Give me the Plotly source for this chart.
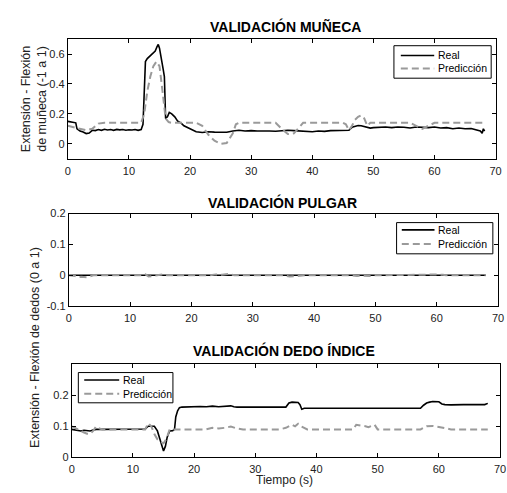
import plotly.graph_objects as go

W, H = 507, 493

# ---------------- DATA ----------------
# Panel 1: wrist
t1_real = [0, 0.5, 1, 1.3, 1.5, 2, 2.5, 3, 3.5, 4, 4.5, 5, 5.5, 6, 6.5, 7, 7.5, 8, 8.5, 9, 9.5, 10, 10.5, 11, 11.5, 12,
           12.3, 12.5, 12.7, 13, 13.5, 14, 14.3, 14.6, 14.8, 15, 15.3, 15.6, 15.8, 16, 16.3, 16.6, 17, 17.5, 18, 18.5,
           19, 19.5, 20, 20.5, 21, 22, 23, 24, 25, 26, 27, 28, 29, 30, 31, 32, 33, 34, 35, 36, 37, 38, 39, 40, 41, 42,
           43, 44, 45, 46, 46.5, 47, 47.5, 48, 48.5, 49, 49.5, 50, 51, 52, 53, 54, 55, 56, 57, 58, 59, 60, 61, 62, 63,
           64, 65, 66, 67, 67.5, 67.8, 68, 68.2]
v1_real = [0.15, 0.148, 0.145, 0.14, 0.1, 0.085, 0.078, 0.068, 0.072, 0.09, 0.088, 0.095, 0.09, 0.097, 0.092, 0.095,
           0.09, 0.096, 0.093, 0.095, 0.09, 0.094, 0.092, 0.095, 0.09, 0.095,
           0.13, 0.35, 0.55, 0.57, 0.59, 0.61, 0.62, 0.65, 0.665, 0.64, 0.58, 0.5, 0.45, 0.17, 0.18, 0.21, 0.2, 0.18,
           0.15, 0.14, 0.12, 0.11, 0.095, 0.09, 0.08, 0.075, 0.08, 0.078, 0.08, 0.077, 0.085, 0.09, 0.085, 0.088,
           0.085, 0.087, 0.085, 0.084, 0.088, 0.09, 0.088, 0.085, 0.078, 0.08, 0.085, 0.083, 0.088, 0.09, 0.088, 0.09,
           0.11, 0.118, 0.122, 0.12, 0.115, 0.11, 0.105, 0.108, 0.11, 0.112, 0.108, 0.112, 0.11, 0.105, 0.112, 0.11,
           0.108, 0.112, 0.105, 0.108, 0.1, 0.105, 0.1, 0.102, 0.09, 0.085, 0.07, 0.1, 0.085]
t1_pred = [0, 1, 2, 3, 4, 5, 6, 8, 10, 12, 12.5, 13, 13.5, 14, 14.5, 15, 15.5, 16, 16.5, 17, 18, 20, 21, 22, 23, 24, 25,
           26, 27, 27.5, 28, 30, 32, 34, 35, 36, 37, 38, 38.5, 40, 42, 44, 45, 45.5, 46, 46.5, 47, 47.5, 48, 48.5, 49,
           49.5, 50, 52, 54, 56, 57, 58, 59, 60, 61, 62, 64, 66, 68]
v1_pred = [0.12, 0.11, 0.1, 0.09, 0.1, 0.135, 0.14, 0.14, 0.14, 0.14, 0.2, 0.35, 0.45, 0.52, 0.55, 0.52, 0.35, 0.17,
           0.145, 0.14, 0.14, 0.14, 0.14, 0.12, 0.06, 0.02, 0.0, 0.005, 0.07, 0.13, 0.14, 0.14, 0.14, 0.14, 0.1, 0.065,
           0.07, 0.12, 0.14, 0.14, 0.14, 0.14, 0.14, 0.13, 0.09, 0.12, 0.16, 0.18, 0.19, 0.17, 0.12, 0.14, 0.14, 0.14,
           0.14, 0.14, 0.12, 0.1, 0.12, 0.14, 0.14, 0.14, 0.14, 0.14, 0.14]

# Panel 2: thumb
t2_real = [0, 10, 20, 30, 40, 50, 60, 68]
v2_real = [0, 0, 0, 0, 0, 0, 0, 0]
t2_pred = [0, 1, 1.5, 2, 3, 3.5, 4, 12, 12.5, 13, 14, 15, 15.5, 16, 23, 24, 25, 26, 26.5, 27, 35, 35.5, 36, 37, 38,
           38.5, 46, 47, 48, 49, 49.5, 57, 58, 59, 60, 61, 61.5, 68]
v2_pred = [0, -0.002, -0.006, -0.005, -0.006, -0.002, 0, 0, 0.003, -0.004, -0.002, 0.002, 0.003, 0, 0, 0.003, 0.002,
           0.004, 0.003, 0, 0, -0.003, -0.004, -0.003, -0.002, 0, 0, -0.002, -0.001, -0.002, 0, 0, 0.002, 0.003,
           0.003, 0.002, 0, 0]

# Panel 3: index finger
t3_real = [0, 0.5, 1, 1.5, 2, 2.5, 3, 3.5, 4, 5, 6, 7, 8, 9, 10, 11, 12, 12.5, 13, 13.5, 14, 14.5, 15, 15.3, 15.6, 16,
           16.5, 16.8, 17, 17.3, 17.6, 18, 19, 20, 21, 22, 23, 24, 25, 26, 26.5, 27, 30, 33, 35, 35.5, 36, 37, 37.3,
           37.6, 38, 40, 42, 45, 46, 47, 50, 53, 55, 57, 57.5, 58, 58.5, 59, 60, 60.5, 61, 62, 64, 66, 67.5, 68]
v3_real = [0.09, 0.088, 0.086, 0.085, 0.087, 0.086, 0.085, 0.088, 0.09, 0.09, 0.09, 0.091, 0.09, 0.09, 0.091, 0.09,
           0.091, 0.1, 0.1, 0.1, 0.085, 0.05, 0.02, 0.035, 0.065, 0.085, 0.086, 0.09, 0.13, 0.15, 0.16, 0.162, 0.163,
           0.162, 0.164, 0.163, 0.165, 0.163, 0.165, 0.166, 0.163, 0.162, 0.162, 0.162, 0.162, 0.175, 0.178, 0.177,
           0.17, 0.155, 0.158, 0.158, 0.158, 0.158, 0.157, 0.156, 0.156, 0.156, 0.157, 0.158, 0.168, 0.175, 0.178,
           0.18, 0.179, 0.172, 0.17, 0.169, 0.17, 0.17, 0.17, 0.174]
t3_pred = [0, 0.5, 1, 1.5, 2, 2.5, 3, 3.5, 4, 4.5, 5, 8, 10, 12, 12.5, 13, 13.5, 14, 14.5, 15, 15.5, 16, 16.5, 17, 20,
           22, 23, 24, 25, 26, 27, 28, 30, 34, 35, 36, 36.5, 37, 37.5, 38, 38.5, 40, 45, 46, 46.5, 47, 48, 48.5, 49,
           49.5, 50, 52, 56, 57, 58, 59, 60, 61, 62, 65, 68]
v3_pred = [0.1, 0.095, 0.088, 0.085, 0.08, 0.076, 0.075, 0.085, 0.1, 0.093, 0.09, 0.09, 0.09, 0.09, 0.11, 0.1, 0.075,
           0.058, 0.05, 0.045, 0.06, 0.09, 0.09, 0.09, 0.09, 0.09, 0.095, 0.093, 0.095, 0.099, 0.093, 0.09, 0.09, 0.09,
           0.095, 0.105, 0.1, 0.108, 0.1, 0.095, 0.09, 0.09, 0.09, 0.09, 0.105, 0.104, 0.1, 0.097, 0.1, 0.105, 0.09,
           0.09, 0.09, 0.09, 0.1, 0.101, 0.098, 0.093, 0.09, 0.09, 0.09]

titles = ["VALIDACIÓN MUÑECA", "VALIDACIÓN PULGAR", "VALIDACIÓN DEDO ÍNDICE"]
series_names = ["Real", "Predicción"]
x_ticks = [0, 10, 20, 30, 40, 50, 60, 70]
y1_ticks = [0, 0.2, 0.4, 0.6]
y1_text = ["0", "0.2", "0.4", "0.6"]
y2_ticks = [-0.1, 0, 0.1, 0.2]
y2_text = ["-0.1", "0", "0.1", "0.2"]
y3_ticks = [0, 0.1, 0.2]
y3_text = ["0", "0.1", "0.2"]

# ---------------- LAYOUT ----------------
FONT = "Liberation Sans, Arial, sans-serif"
BLACK = "#000000"
GREY = "#9a9a9a"
REAL_LINE = dict(color=BLACK, width=1.6)
PRED_LINE = dict(color=GREY, width=2, dash="7px,4px")

# pixel boxes: (left, right, top, bottom)
boxes = [(66, 501.5, 34, 156.5), (67, 504, 212.7, 307.7), (70, 506, 367.3, 462.5)]
# legend boxes in pixels: (left, right, top, bottom, line_x0, line_x1, row1_y, row2_y)
legend_boxes = [(398, 497, 40.7, 74, 405, 439, 50.7, 64),
                (400.7, 498.7, 222, 254, 406, 439.3, 229.5, 244),
                (76.7, 173, 375.7, 406.7, 82.7, 118.3, 383.3, 397.3)]


def px(x):
    return x / W


def py(y):
    return 1 - y / H


fig = go.Figure()

panels = [
    (t1_real, v1_real, t1_pred, v1_pred),
    (t2_real, v2_real, t2_pred, v2_pred),
    (t3_real, v3_real, t3_pred, v3_pred),
]
for i, (tr, vr, tp, vp) in enumerate(panels):
    sfx = "" if i == 0 else str(i + 1)
    fig.add_trace(go.Scatter(x=tr, y=vr, mode="lines", name=series_names[0], line=REAL_LINE,
                             xaxis="x" + sfx, yaxis="y" + sfx, showlegend=False))
    fig.add_trace(go.Scatter(x=tp, y=vp, mode="lines", name=series_names[1], line=PRED_LINE,
                             xaxis="x" + sfx, yaxis="y" + sfx, showlegend=False))

axis_common = dict(showline=True, linecolor=BLACK, linewidth=1, mirror="ticks", ticks="inside",
                   ticklen=4, tickcolor=BLACK, showgrid=False, zeroline=False,
                   ticklabeloverflow="allow",
                   tickfont=dict(family=FONT, size=11, color="#222222"))

yranges = [[-0.1, 0.7], [-0.1, 0.2], [0, 0.3]]
yticks = [(y1_ticks, y1_text), (y2_ticks, y2_text), (y3_ticks, y3_text)]
layout = dict(
    width=W, height=H, margin=dict(l=0, r=0, t=0, b=0),
    paper_bgcolor="white", plot_bgcolor="white",
    font=dict(family=FONT, size=11, color=BLACK),
    showlegend=False,
)
for i in range(3):
    sfx = "" if i == 0 else str(i + 1)
    b = boxes[i]
    layout["xaxis" + sfx] = dict(domain=[px(b[0]), px(b[1])], range=[0, 70], tickvals=x_ticks,
                                 anchor="y" + sfx, ticklabelstandoff=2, **axis_common)
    layout["yaxis" + sfx] = dict(domain=[py(b[3]), py(b[2])], range=yranges[i], tickvals=yticks[i][0],
                                 ticktext=yticks[i][1], anchor="x" + sfx, **axis_common)

# legends drawn as boxes with sample lines and labels
shapes = []
annotations = []
for (l, r, t, b, lx0, lx1, r1, r2) in legend_boxes:
    shapes.append(dict(type="rect", xref="paper", yref="paper", x0=px(l), x1=px(r), y0=py(b), y1=py(t),
                       line=dict(color=BLACK, width=1), fillcolor="white", layer="above"))
    shapes.append(dict(type="line", xref="paper", yref="paper", x0=px(lx0), x1=px(lx1), y0=py(r1), y1=py(r1),
                       line=REAL_LINE, layer="above"))
    shapes.append(dict(type="line", xref="paper", yref="paper", x0=px(lx0), x1=px(lx1), y0=py(r2), y1=py(r2),
                       line=PRED_LINE, layer="above"))
    for name, ry in zip(series_names, (r1, r2)):
        annotations.append(dict(text=name, x=px(lx1 + 1.5), y=py(ry), xref="paper", yref="paper",
                                showarrow=False, xanchor="left", yanchor="middle",
                                font=dict(family=FONT, size=10.5, color=BLACK)))

title_pos = [(288, 21), (285, 201.7), (286.5, 352.7)]
for t, (tx, ty) in zip(titles, title_pos):
    annotations.append(dict(text="<b>" + t + "</b>", x=px(tx), y=py(ty), xref="paper", yref="paper",
                            showarrow=False, xanchor="center", yanchor="middle",
                            font=dict(family=FONT, size=14, color=BLACK)))
annotations.append(dict(text="Extensión - Flexión<br>de muñeca (-1 a 1)", x=px(31), y=py(95),
                        xref="paper", yref="paper", showarrow=False, textangle=-90,
                        xanchor="center", yanchor="middle",
                        font=dict(family=FONT, size=12.5, color="#222222")))
annotations.append(dict(text="Extensión - Flexión de dedos (0 a 1)", x=px(33), y=py(350),
                        xref="paper", yref="paper", showarrow=False, textangle=-90,
                        xanchor="center", yanchor="middle",
                        font=dict(family=FONT, size=12.5, color="#222222")))
annotations.append(dict(text="Tiempo (s)", x=px(287), y=py(485.5), xref="paper", yref="paper",
                        showarrow=False, xanchor="center", yanchor="middle",
                        font=dict(family=FONT, size=12, color="#222222")))
layout["annotations"] = annotations
layout["shapes"] = shapes

fig.update_layout(**layout)
fig.write_html("out.html")
